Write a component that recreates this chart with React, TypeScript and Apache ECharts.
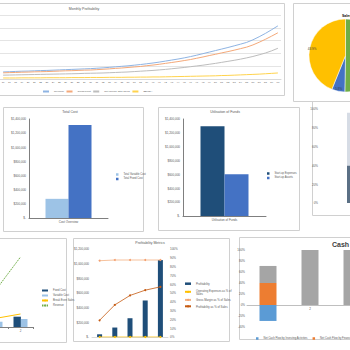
import React, { useEffect, useRef } from 'react';
import * as echarts from 'echarts';

// ---------- Monthly Profitability ----------
const months = ['16','17','18','19','20','21','22','23','24','25','26','27','28','29','30','31','32','33','34','35','36','37','38','39','40','41','42','43','44','45','46','47','48','49','50','51','52','53','54','55','56','57','58','59','60'];
const revenue = [0.55,0.57,0.59,0.61,0.62,0.64,0.66,0.67,0.69,0.71,0.73,0.75,0.77,0.79,0.81,0.84,0.87,0.91,0.95,0.99,1.03,1.08,1.13,1.19,1.25,1.32,1.40,1.48,1.56,1.65,1.75,1.86,1.98,2.10,2.22,2.34,2.46,2.59,2.72,2.86,3.06,3.30,3.56,3.85,4.15];
const grossProfit = [0.48,0.50,0.51,0.53,0.54,0.56,0.57,0.58,0.60,0.62,0.64,0.65,0.67,0.69,0.70,0.73,0.76,0.79,0.83,0.86,0.90,0.94,0.98,1.04,1.09,1.15,1.22,1.29,1.36,1.44,1.52,1.62,1.72,1.83,1.93,2.04,2.14,2.25,2.37,2.49,2.66,2.87,3.10,3.35,3.61];
const netIncome = [0.30,0.31,0.32,0.33,0.34,0.35,0.36,0.37,0.38,0.39,0.40,0.41,0.42,0.44,0.45,0.46,0.47,0.49,0.51,0.53,0.55,0.58,0.61,0.64,0.67,0.71,0.75,0.80,0.85,0.90,0.96,1.02,1.08,1.15,1.22,1.30,1.38,1.46,1.55,1.65,1.76,1.89,2.03,2.20,2.40];
const ebitda = [0.08,0.08,0.08,0.09,0.09,0.09,0.09,0.10,0.10,0.10,0.10,0.11,0.11,0.11,0.12,0.12,0.12,0.13,0.13,0.13,0.14,0.14,0.15,0.15,0.16,0.16,0.17,0.18,0.19,0.20,0.21,0.22,0.23,0.24,0.25,0.27,0.28,0.30,0.32,0.34,0.36,0.38,0.41,0.44,0.47];

// ---------- Pie ----------
const pieNames = ['Segment A', 'Segment B', 'Segment C'];
const pieValues = [50.3, 5.8, 43.9];

// ---------- Total Cost ----------
const costCategories = ['Cost Overview'];
const variableCost = [271000];
const fixedCost = [1314000];

// ---------- Utilisation of Funds ----------
const fundsCategories = ['Utilisation of Funds'];
const startupExpenses = [1295000];
const startupAssets = [604000];

// ---------- Right cropped chart ----------
const rightCategories = ['1'];
const rightLower = [40];
const rightUpper = [56];

// ---------- Break-even ----------
const beCategories = ['1', '2'];
const beFixed = [12.9, 12.9];
const beVariable = [6.6, 10];
const beSales = [10.75, 16.25];
const beRevenue = [45.75, 87.5];

// ---------- Profitability Metrics ----------
const years = ['1', '2', '3', '4', '5'];
const profitability = [37000, 129000, 256000, 498000, 1049000];
const opExPct = [0, 0, 0, 0, 0];
const grossMarginPct = [86.7, 87.5, 87.5, 87.5, 87.5];
const profitPct = [19, 36.5, 47.2, 53.2, 57];

// ---------- Cash Flow ----------
const cfCategories = ['1', '2', '3'];
const cfInvesting = [-29, 0, 0];
const cfFinancing = [40, 0, 0];
const cfOperating = [31, 100, 100];

const FONT = 'Liberation Sans';
const TXT = '#595959';
const money = (v: number) => (v === 0 ? '$-' : '$' + v.toLocaleString('en-US'));

const lab = (extra: any = {}) => ({ fontSize: 3, color: TXT, ...extra });

function panel(x: number, y: number, w: number, h: number) {
  return { type: 'rect', z: -10, shape: { x: x + 0.5, y: y + 0.5, width: w, height: h }, style: { fill: '#fff', stroke: '#d0d0d0', lineWidth: 1 } };
}
function title(text: string, x: number, y: number, size = 4, bold = false, align = 'center', color = TXT) {
  return { type: 'text', z: 5, x, y, style: { text, fontSize: size, fontWeight: bold ? 'bold' : 'normal', fill: color, textAlign: align, textVerticalAlign: 'middle', fontFamily: FONT } };
}

const grid = (left: number, top: number, width: number, height: number) => ({ left, top, width, height, containLabel: false, outerBoundsMode: 'none' });

const option: any = {
  animation: false,
  textStyle: { fontFamily: FONT },
  graphic: [
    panel(-2, 3, 286, 92),
    panel(312, 101, 50, 114),
    panel(293, 3, 70, 98),
    panel(3, 107, 140, 124),
    panel(158, 107, 141, 123),
    panel(-2, 238, 68, 104),
    panel(73, 238, 156, 103),
    panel(239, 237, 120, 102),
    title('Monthly Profitability', 84, 9, 3.5),
    title('Total Cost', 70, 112, 3.5),
    title('Utilisation of Funds', 225, 112, 3.5),
    title('Profitability Metrics', 150, 243, 3.5),
    title('Cash Flow', 332, 244, 7, true, 'left', '#404040'),
    title('Sales', 342, 16, 3.5, true, 'left', '#000'),
  ],
  grid: [
    grid(0, 15, 281, 64),
    grid(29, 119, 79, 99),
    grid(183, 119, 83, 97),
    grid(321, 109, 72, 94),
    grid(-17, 247, 50, 80),
    grid(92, 249, 76, 88),
    grid(247, 250, 126, 77),
  ],
  xAxis: [
    { gridIndex: 0, type: 'category', data: months, axisLine: { lineStyle: { color: '#d9d9d9' } }, axisTick: { show: false }, axisLabel: lab({ fontSize: 2.5, interval: 0, margin: 2 }) },
    { gridIndex: 1, type: 'category', data: costCategories, axisLine: { lineStyle: { color: '#7f7f7f', width: 1 } }, axisTick: { show: false }, axisLabel: lab({ margin: 2 }) },
    { gridIndex: 2, type: 'category', data: fundsCategories, axisLine: { lineStyle: { color: '#7f7f7f', width: 1 } }, axisTick: { show: false }, axisLabel: lab({ margin: 2 }) },
    { gridIndex: 3, type: 'category', data: rightCategories, axisLine: { show: false }, axisTick: { show: false }, axisLabel: { show: false } },
    { gridIndex: 4, type: 'category', data: beCategories, axisLine: { lineStyle: { color: '#7f7f7f' } }, axisTick: { show: true, length: 2, lineStyle: { color: '#7f7f7f' } }, axisLabel: lab({ margin: 2 }) },
    { gridIndex: 5, type: 'category', data: years, axisLine: { lineStyle: { color: '#d9d9d9' } }, axisTick: { show: false }, axisLabel: { show: false } },
    { gridIndex: 6, type: 'category', data: cfCategories, offset: -22, axisLine: { onZero: false, lineStyle: { color: '#bfbfbf' } }, axisTick: { show: false }, axisLabel: lab({ margin: 2 }) },
  ],
  yAxis: [
    { gridIndex: 0, type: 'value', min: 0, max: 5, interval: 1, axisLabel: { show: false }, axisLine: { show: false }, splitLine: { lineStyle: { color: '#d9d9d9', width: 0.7 } } },
    { gridIndex: 1, type: 'value', min: 0, max: 1400000, interval: 200000, axisLine: { show: true, lineStyle: { color: '#7f7f7f', width: 1 } }, splitLine: { show: false }, axisLabel: lab({ margin: 3, formatter: money }) },
    { gridIndex: 2, type: 'value', min: 0, max: 1400000, interval: 200000, axisLine: { show: true, lineStyle: { color: '#7f7f7f', width: 1 } }, splitLine: { show: false }, axisLabel: lab({ margin: 3, formatter: money }) },
    { gridIndex: 3, type: 'value', min: 0, max: 100, interval: 20, axisLine: { show: false }, splitLine: { show: false }, axisLabel: lab({ margin: 3, formatter: '{value}%' }) },
    { gridIndex: 4, type: 'value', min: 0, max: 100, axisLine: { show: false }, axisLabel: { show: false }, splitLine: { show: false } },
    { gridIndex: 5, type: 'value', min: 0, max: 1200000, interval: 200000, axisLine: { show: false }, splitLine: { show: false }, axisLabel: lab({ margin: 3, formatter: money }) },
    { gridIndex: 6, type: 'value', min: -40, max: 100, interval: 20, axisLine: { show: false }, splitLine: { show: false }, axisLabel: lab({ margin: 2, formatter: '{value}%' }) },
    { gridIndex: 5, type: 'value', position: 'right', min: 0, max: 100, interval: 10, axisLine: { show: false }, splitLine: { show: false }, axisLabel: lab({ margin: 2, formatter: '{value}%' }) },
  ],
  legend: [
    { data: ['Revenue', 'Gross Profit', 'Net Income after Taxes', 'EBITDA'], left: 37, top: 85, orient: 'horizontal', itemWidth: 6, itemHeight: 1, itemGap: 1.5, textStyle: { fontSize: 2.5, color: TXT }, selectedMode: false },
    { data: ['Total Variable Cost', 'Total Fixed Cost'], left: 111, top: 168, orient: 'vertical', icon: 'rect', itemWidth: 2.5, itemHeight: 2.5, itemGap: 1.5, textStyle: { fontSize: 2.7, color: TXT }, selectedMode: false },
    { data: ['Start-up Expenses', 'Start-up Assets'], left: 262, top: 167, orient: 'vertical', icon: 'rect', itemWidth: 2.5, itemHeight: 2.5, itemGap: 1.5, textStyle: { fontSize: 2.7, color: TXT }, selectedMode: false },
    { data: [{ name: 'Fixed Cost', icon: 'rect' }, { name: 'Variable Cost', icon: 'rect' }, 'Break Even Sales', 'Revenue '], left: 36, top: 284, orient: 'vertical', itemWidth: 6, itemHeight: 2, itemGap: 2, textStyle: { fontSize: 2.7, color: TXT }, selectedMode: false },
    { data: [{ name: 'Profitability', icon: 'rect' }, 'Operating Expenses as % of Sales', 'Gross Margin as % of Sales', 'Profitability as % of Sales'], left: 179, top: 277, orient: 'vertical', itemWidth: 6, itemHeight: 2.5, itemGap: 3, textStyle: { fontSize: 2.8, color: TXT, lineHeight: 3.4 }, selectedMode: false,
      formatter: (n: string) => (n === 'Operating Expenses as % of Sales' ? 'Operating Expenses as % of\nSales' : n) },
    { data: ['Net Cash Flow by Investing Activities', 'Net Cash Flow by Financing Activities', 'Net Cash Flow by Operating Activities'], left: 251, top: 332, width: 400, orient: 'horizontal', icon: 'rect', itemWidth: 2.5, itemHeight: 2.5, itemGap: 5, textStyle: { fontSize: 2.7, color: TXT }, selectedMode: false },
  ],
  series: [
    // Monthly profitability
    { name: 'Revenue', type: 'line', xAxisIndex: 0, yAxisIndex: 0, data: revenue, symbol: 'none', lineStyle: { color: '#8fb4e3', width: 1 }, itemStyle: { color: '#8fb4e3' } },
    { name: 'Gross Profit', type: 'line', xAxisIndex: 0, yAxisIndex: 0, data: grossProfit, symbol: 'none', lineStyle: { color: '#f4a97a', width: 1 }, itemStyle: { color: '#f4a97a' } },
    { name: 'Net Income after Taxes', type: 'line', xAxisIndex: 0, yAxisIndex: 0, data: netIncome, symbol: 'none', lineStyle: { color: '#bdbdbd', width: 1 }, itemStyle: { color: '#bdbdbd' } },
    { name: 'EBITDA', type: 'line', xAxisIndex: 0, yAxisIndex: 0, data: ebitda, symbol: 'none', lineStyle: { color: '#ffd34d', width: 1 }, itemStyle: { color: '#ffd34d' } },
    // Pie
    { type: 'pie', center: [345.5, 55.5], radius: 36.5, startAngle: 90, clockwise: true, label: { show: false }, labelLine: { show: false }, itemStyle: { borderColor: '#fff', borderWidth: 0.5 },
      data: pieNames.map((n, i) => ({ name: n, value: pieValues[i], itemStyle: { color: ['#70ad47', '#4472c4', '#ffc000'][i] } })) },
    { type: 'pie', center: [345.5, 55.5], radius: [0, 62], startAngle: 90, clockwise: true, silent: true, labelLine: { show: false }, itemStyle: { color: 'rgba(0,0,0,0)', borderWidth: 0 },
      label: { show: true, position: 'inside', fontSize: 3, color: '#404040', formatter: (p: any) => p.percent.toFixed(1) + '%' },
      data: pieNames.map((n, i) => ({ name: n + ' ', value: pieValues[i] })) },
    // Total cost
    { name: 'Total Variable Cost', type: 'bar', xAxisIndex: 1, yAxisIndex: 1, data: variableCost, barWidth: 23, barGap: '0%', itemStyle: { color: '#9dc3e6' } },
    { name: 'Total Fixed Cost', type: 'bar', xAxisIndex: 1, yAxisIndex: 1, data: fixedCost, barWidth: 23, barGap: '0%', itemStyle: { color: '#4472c4' } },
    // Utilisation of funds
    { name: 'Start-up Expenses', type: 'bar', xAxisIndex: 2, yAxisIndex: 2, data: startupExpenses, barWidth: 24, barGap: '0%', itemStyle: { color: '#1f4e79' } },
    { name: 'Start-up Assets', type: 'bar', xAxisIndex: 2, yAxisIndex: 2, data: startupAssets, barWidth: 24, barGap: '0%', itemStyle: { color: '#4472c4' } },
    // Right cropped chart
    { name: 'Lower', type: 'bar', stack: 'r', xAxisIndex: 3, yAxisIndex: 3, data: rightLower, barWidth: 20, itemStyle: { color: '#5b7085' } },
    { name: 'Upper', type: 'bar', stack: 'r', xAxisIndex: 3, yAxisIndex: 3, data: rightUpper, barWidth: 20, itemStyle: { color: '#d6dce5' } },
    // Break-even
    { name: 'Fixed Cost', type: 'bar', xAxisIndex: 4, yAxisIndex: 4, data: beFixed, barWidth: 7.4, barGap: '0%', itemStyle: { color: '#1f4e79' } },
    { name: 'Variable Cost', type: 'bar', xAxisIndex: 4, yAxisIndex: 4, data: beVariable, barWidth: 6.6, barGap: '0%', itemStyle: { color: '#9dc3e6' } },
    { name: 'Break Even Sales', type: 'line', xAxisIndex: 4, yAxisIndex: 4, data: beSales, symbol: 'none', lineStyle: { color: '#ffc000', width: 1 }, itemStyle: { color: '#ffc000' } },
    { name: 'Revenue ', type: 'line', xAxisIndex: 4, yAxisIndex: 4, data: beRevenue, symbol: 'none', lineStyle: { color: '#70ad47', width: 1, type: [1.5, 0.8] }, itemStyle: { color: '#70ad47' } },
    // Profitability metrics
    { name: 'Profitability', type: 'bar', xAxisIndex: 5, yAxisIndex: 5, data: profitability, barWidth: 5, itemStyle: { color: '#1f4e79' } },
    { name: 'Operating Expenses as % of Sales', type: 'line', xAxisIndex: 5, yAxisIndex: 7, data: opExPct, symbol: 'circle', symbolSize: 2, lineStyle: { color: '#ffc000', width: 0.8 }, itemStyle: { color: '#ffc000' } },
    { name: 'Gross Margin as % of Sales', type: 'line', xAxisIndex: 5, yAxisIndex: 7, data: grossMarginPct, symbol: 'circle', symbolSize: 2, lineStyle: { color: '#f4b183', width: 0.8 }, itemStyle: { color: '#f4a070' } },
    { name: 'Profitability as % of Sales', type: 'line', xAxisIndex: 5, yAxisIndex: 7, data: profitPct, symbol: 'circle', symbolSize: 2, lineStyle: { color: '#c55a11', width: 0.8 }, itemStyle: { color: '#c55a11' } },
    // Cash flow
    { name: 'Net Cash Flow by Investing Activities', type: 'bar', stack: 'cf', xAxisIndex: 6, yAxisIndex: 6, data: cfInvesting, barWidth: 17, itemStyle: { color: '#5b9bd5' } },
    { name: 'Net Cash Flow by Financing Activities', type: 'bar', stack: 'cf', xAxisIndex: 6, yAxisIndex: 6, data: cfFinancing, barWidth: 17, itemStyle: { color: '#ed7d31' } },
    { name: 'Net Cash Flow by Operating Activities', type: 'bar', stack: 'cf', xAxisIndex: 6, yAxisIndex: 6, data: cfOperating, barWidth: 17, itemStyle: { color: '#a5a5a5' } },
  ],
};

export default function App() {
  const ref = useRef<HTMLDivElement>(null);
  useEffect(() => {
    const chart = echarts.init(ref.current!, null, { renderer: 'svg' });
    chart.setOption(option);
    return () => chart.dispose();
  }, []);
  return <div ref={ref} style={{ position: 'fixed', left: 0, top: 0, width: 350, height: 350, background: '#fff' }} />;
}
